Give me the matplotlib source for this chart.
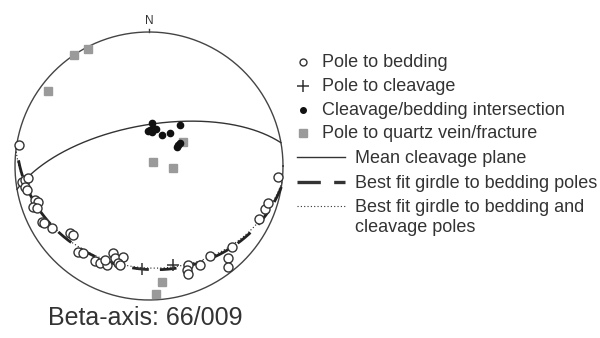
"""Equal-area stereonet: bedding, cleavage, intersections, veins."""
import numpy as np
import matplotlib
matplotlib.use("Agg")
import matplotlib.pyplot as plt
from matplotlib.lines import Line2D

plt.rcParams["font.family"] = ["Liberation Sans", "DejaVu Sans"]

# projected positions on the unit net (east, north)
bed_e = [-0.97, -0.95, -0.925, -0.90, -0.925, -0.91, -0.85, -0.83, -0.865, -0.835,
         -0.80, -0.785, -0.725, -0.59, -0.565, -0.53, -0.49, -0.40, -0.365, -0.315,
         -0.33, -0.27, -0.255, -0.195, -0.23, -0.215, 0.29, 0.285, 0.29, 0.38,
         0.455, 0.62, 0.59, 0.59, 0.82, 0.865, 0.89, 0.963]
bed_n = [0.16, -0.12, -0.105, -0.09, -0.155, -0.18, -0.255, -0.27, -0.305, -0.315,
         -0.42, -0.425, -0.465, -0.50, -0.515, -0.64, -0.65, -0.71, -0.725, -0.74,
         -0.70, -0.65, -0.69, -0.68, -0.725, -0.74, -0.74, -0.775, -0.805, -0.74,
         -0.67, -0.605, -0.69, -0.755, -0.395, -0.32, -0.275, -0.08]
clv_e = [-0.052, 0.179]
clv_n = [-0.769, -0.739]
int_e = [0.022, 0.007, 0.022, 0.03, 0.052, 0.097, 0.157, 0.231, 0.216, 0.209, 0.231, -0.007]
int_n = [0.321, 0.269, 0.254, 0.284, 0.276, 0.231, 0.246, 0.306, 0.157, 0.142, 0.172, 0.261]
vein_e = [-0.455, -0.56, -0.754, 0.254, 0.03, 0.179, 0.097, 0.052]
vein_n = [0.873, 0.828, 0.56, 0.179, 0.03, -0.015, -0.866, -0.955]

# planes: dip direction, dip
mean_cleavage = (350, 65)
girdle_bedding = (189, 24)
girdle_all = (187, 25)
beta_axis = "66/009"

legend_labels = ["Pole to bedding", "Pole to cleavage", "Cleavage/bedding intersection",
                 "Pole to quartz vein/fracture", "Mean cleavage plane",
                 "Best fit girdle to bedding poles",
                 "Best fit girdle to bedding and", "cleavage poles"]

INK = "#333333"
GREY = "#9a9a9a"


def great_circle(dipdir, dip, n=361):
    dd, d = np.radians(dipdir), np.radians(dip)
    s = dd - np.pi / 2
    t = np.linspace(0, np.pi, n)
    strike = np.array([np.sin(s), np.cos(s), 0.0])
    dipv = np.array([np.sin(dd) * np.cos(d), np.cos(dd) * np.cos(d), np.sin(d)])
    v = np.outer(np.cos(t), strike) + np.outer(np.sin(t), dipv)
    plunge = np.arcsin(np.clip(v[:, 2], -1, 1))
    trend = np.arctan2(v[:, 0], v[:, 1])
    r = np.sqrt(2) * np.sin((np.pi / 2 - plunge) / 2)
    return r * np.sin(trend), r * np.cos(trend)


fig = plt.figure(figsize=(6, 3.38), dpi=100)
W, H = 600, 338
cx, cy, R = 149, 166, 134
side = 2.2 * R
ax = fig.add_axes([(cx - side / 2) / W, (H - cy - side / 2) / H, side / W, side / H])
ax.set_xlim(-1.1, 1.1)
ax.set_ylim(-1.1, 1.1)
ax.set_aspect("equal")
ax.axis("off")

th = np.linspace(0, 2 * np.pi, 400)
ax.plot(np.cos(th), np.sin(th), color="#444444", lw=1.0)
ax.plot([0, 0], [1.0, 1.025], color="#444444", lw=1.0)
ax.text(0, 1.04, "N", ha="center", va="bottom", fontsize=8.5, color=INK)

x, y = great_circle(*mean_cleavage)
ax.plot(x, y, color=INK, lw=1.0)
x, y = great_circle(*girdle_bedding)
ax.plot(x, y, color="#222222", lw=2.0, dashes=(6, 4))
x, y = great_circle(*girdle_all)
ax.plot(x, y, color="#222222", lw=0.8, dashes=(1, 2))

ax.plot(vein_e, vein_n, "s", ms=6, color=GREY, mec=GREY, zorder=3)
ax.plot(bed_e, bed_n, "o", ms=6.5, mfc="white", mec=INK, mew=1.0, ls="none", zorder=4)
ax.plot(clv_e, clv_n, "+", ms=9, color=INK, mew=1.1, zorder=5)
ax.plot(int_e, int_n, "o", ms=4.5, color="#111111", zorder=5)

fig.text(48 / W, 1 - 325 / H, f"Beta-axis: {beta_axis}", ha="left", va="baseline",
         fontsize=18, color=INK)

# legend, laid out in pixel units
lg = fig.add_axes([0, 0, 1, 1])
lg.set_xlim(0, W)
lg.set_ylim(H, 0)
lg.axis("off")
marker_rows = [("o", dict(ms=5, mfc="white", mec=INK, mew=1.0)),
               ("+", dict(ms=9, color=INK, mew=1.1)),
               ("o", dict(ms=4, color="#111111")),
               ("s", dict(ms=5.5, color=GREY))]
base = [67, 91, 115, 138, 163, 188, 212, 232]
for i, (m, kw) in enumerate(marker_rows):
    lg.plot([303], [base[i] - 5], m, **kw)
    lg.text(322, base[i], legend_labels[i], fontsize=13, color=INK, va="baseline")
line_styles = [dict(lw=1.0), dict(lw=2.4, dashes=(7, 4)), dict(lw=0.8, dashes=(1, 2))]
for j, kw in enumerate(line_styles):
    i = 4 + j
    lg.add_line(Line2D([297, 345], [base[i] - 6, base[i] - 6], color=INK, **kw))
    lg.text(355, base[i], legend_labels[i], fontsize=13, color=INK, va="baseline")
lg.text(355, base[7], legend_labels[7], fontsize=13, color=INK, va="baseline")

fig.savefig("out.png", dpi=100)
